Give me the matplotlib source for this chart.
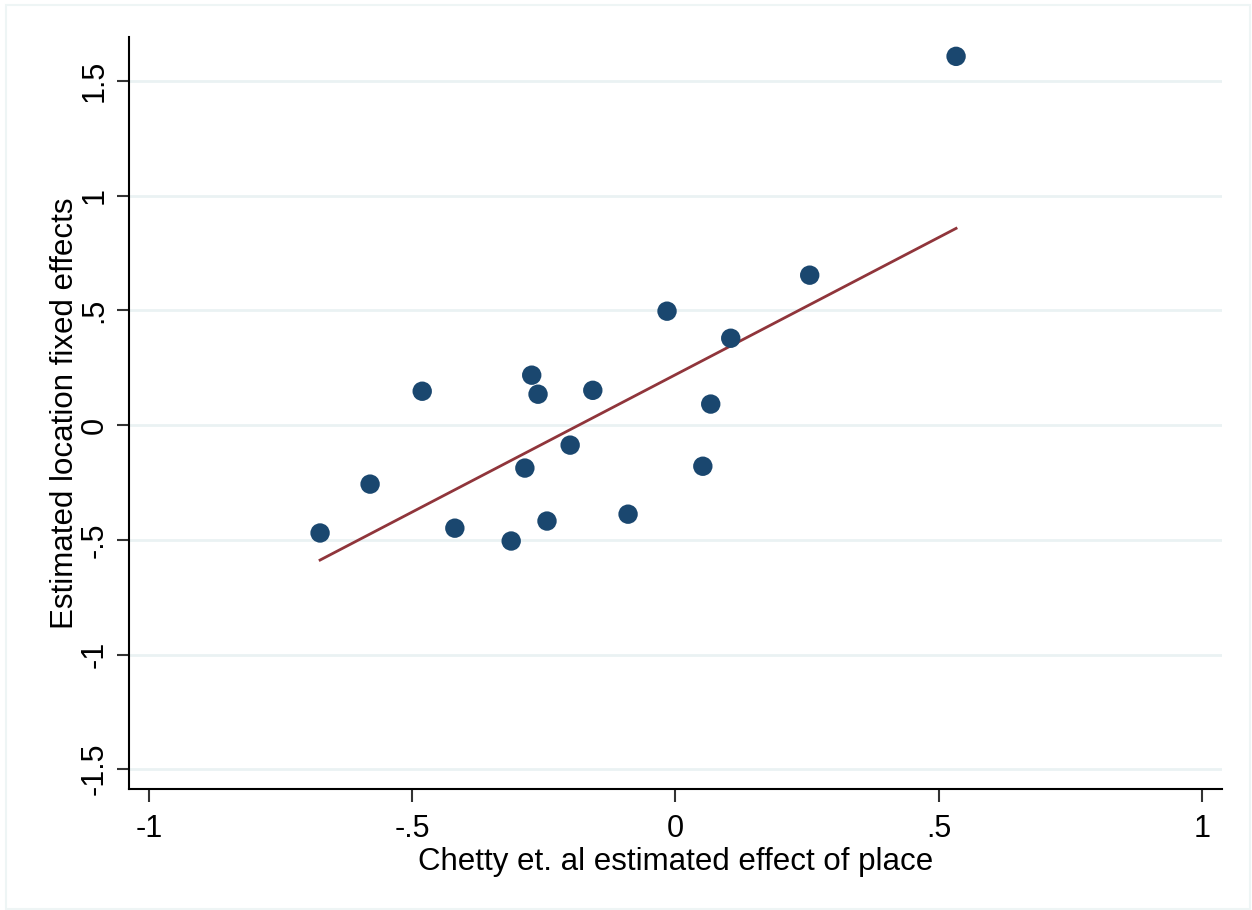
import numpy as np
import matplotlib
matplotlib.use("Agg")
from matplotlib import pyplot as plt
from matplotlib.patches import Rectangle

# Chetty et al. estimate vs estimated location fixed effect
chetty = [-0.675, -0.580, -0.481, -0.419, -0.312, -0.286, -0.273, -0.261, -0.244,
          -0.200, -0.157, -0.090, -0.016, 0.052, 0.067, 0.105, 0.255, 0.533]
fixed_eff = [-0.470, -0.257, 0.148, -0.449, -0.505, -0.187, 0.218, 0.135, -0.418,
             -0.087, 0.152, -0.388, 0.497, -0.179, 0.092, 0.379, 0.654, 1.608]

# fitted line as drawn in the original (endpoints)
fit_x = [-0.675, 0.533]
fit_y = [-0.588, 0.858]

xticks = [-1, -0.5, 0, 0.5, 1]
xtick_labels = ["-1", "-.5", "0", ".5", "1"]
yticks = [-1.5, -1, -0.5, 0, 0.5, 1, 1.5]
ytick_labels = ["-1.5", "-1", "-.5", "0", ".5", "1", "1.5"]

plt.rcParams['font.family'] = ['Liberation Sans', 'DejaVu Sans']

fig = plt.figure(figsize=(12.52, 9.10), dpi=100)
fig.patches.append(Rectangle((6 / 1252, 1 / 910), 1244 / 1252, 904 / 910,
                             transform=fig.transFigure, fill=False,
                             edgecolor="#eef5f5", linewidth=1.5))
ax = fig.add_axes([0.103, 0.133, 0.873, 0.826])

for yt in yticks:
    ax.axhline(yt, color="#eaf2f3", linewidth=2, zorder=0)

ax.plot(fit_x, fit_y, color="#90353b", linewidth=2, zorder=2)
ax.scatter(chetty, fixed_eff, s=195, color="#1a476f", edgecolors="none", zorder=3)

ax.set_xlim(-1.038, 1.038)
ax.set_ylim(-1.586, 1.691)
ax.set_xticks(xticks)
ax.set_xticklabels(xtick_labels, fontsize=22)
ax.set_yticks(yticks)
ax.set_yticklabels(ytick_labels, fontsize=22, rotation=90, va="center")
ax.tick_params(direction="out", length=9, width=1.5, color="#333333", pad=9)
ax.tick_params(axis="y", pad=5)

ax.spines["top"].set_visible(False)
ax.spines["right"].set_visible(False)
ax.spines["left"].set_linewidth(1.5)
ax.spines["bottom"].set_linewidth(1.5)

ax.set_xlabel("Chetty et. al estimated effect of place", fontsize=22.5, labelpad=2)
ax.set_ylabel("Estimated location fixed effects", fontsize=22.5)
ax.yaxis.set_label_coords(-0.045, 0.5)

plt.savefig("out.png", dpi=100)
